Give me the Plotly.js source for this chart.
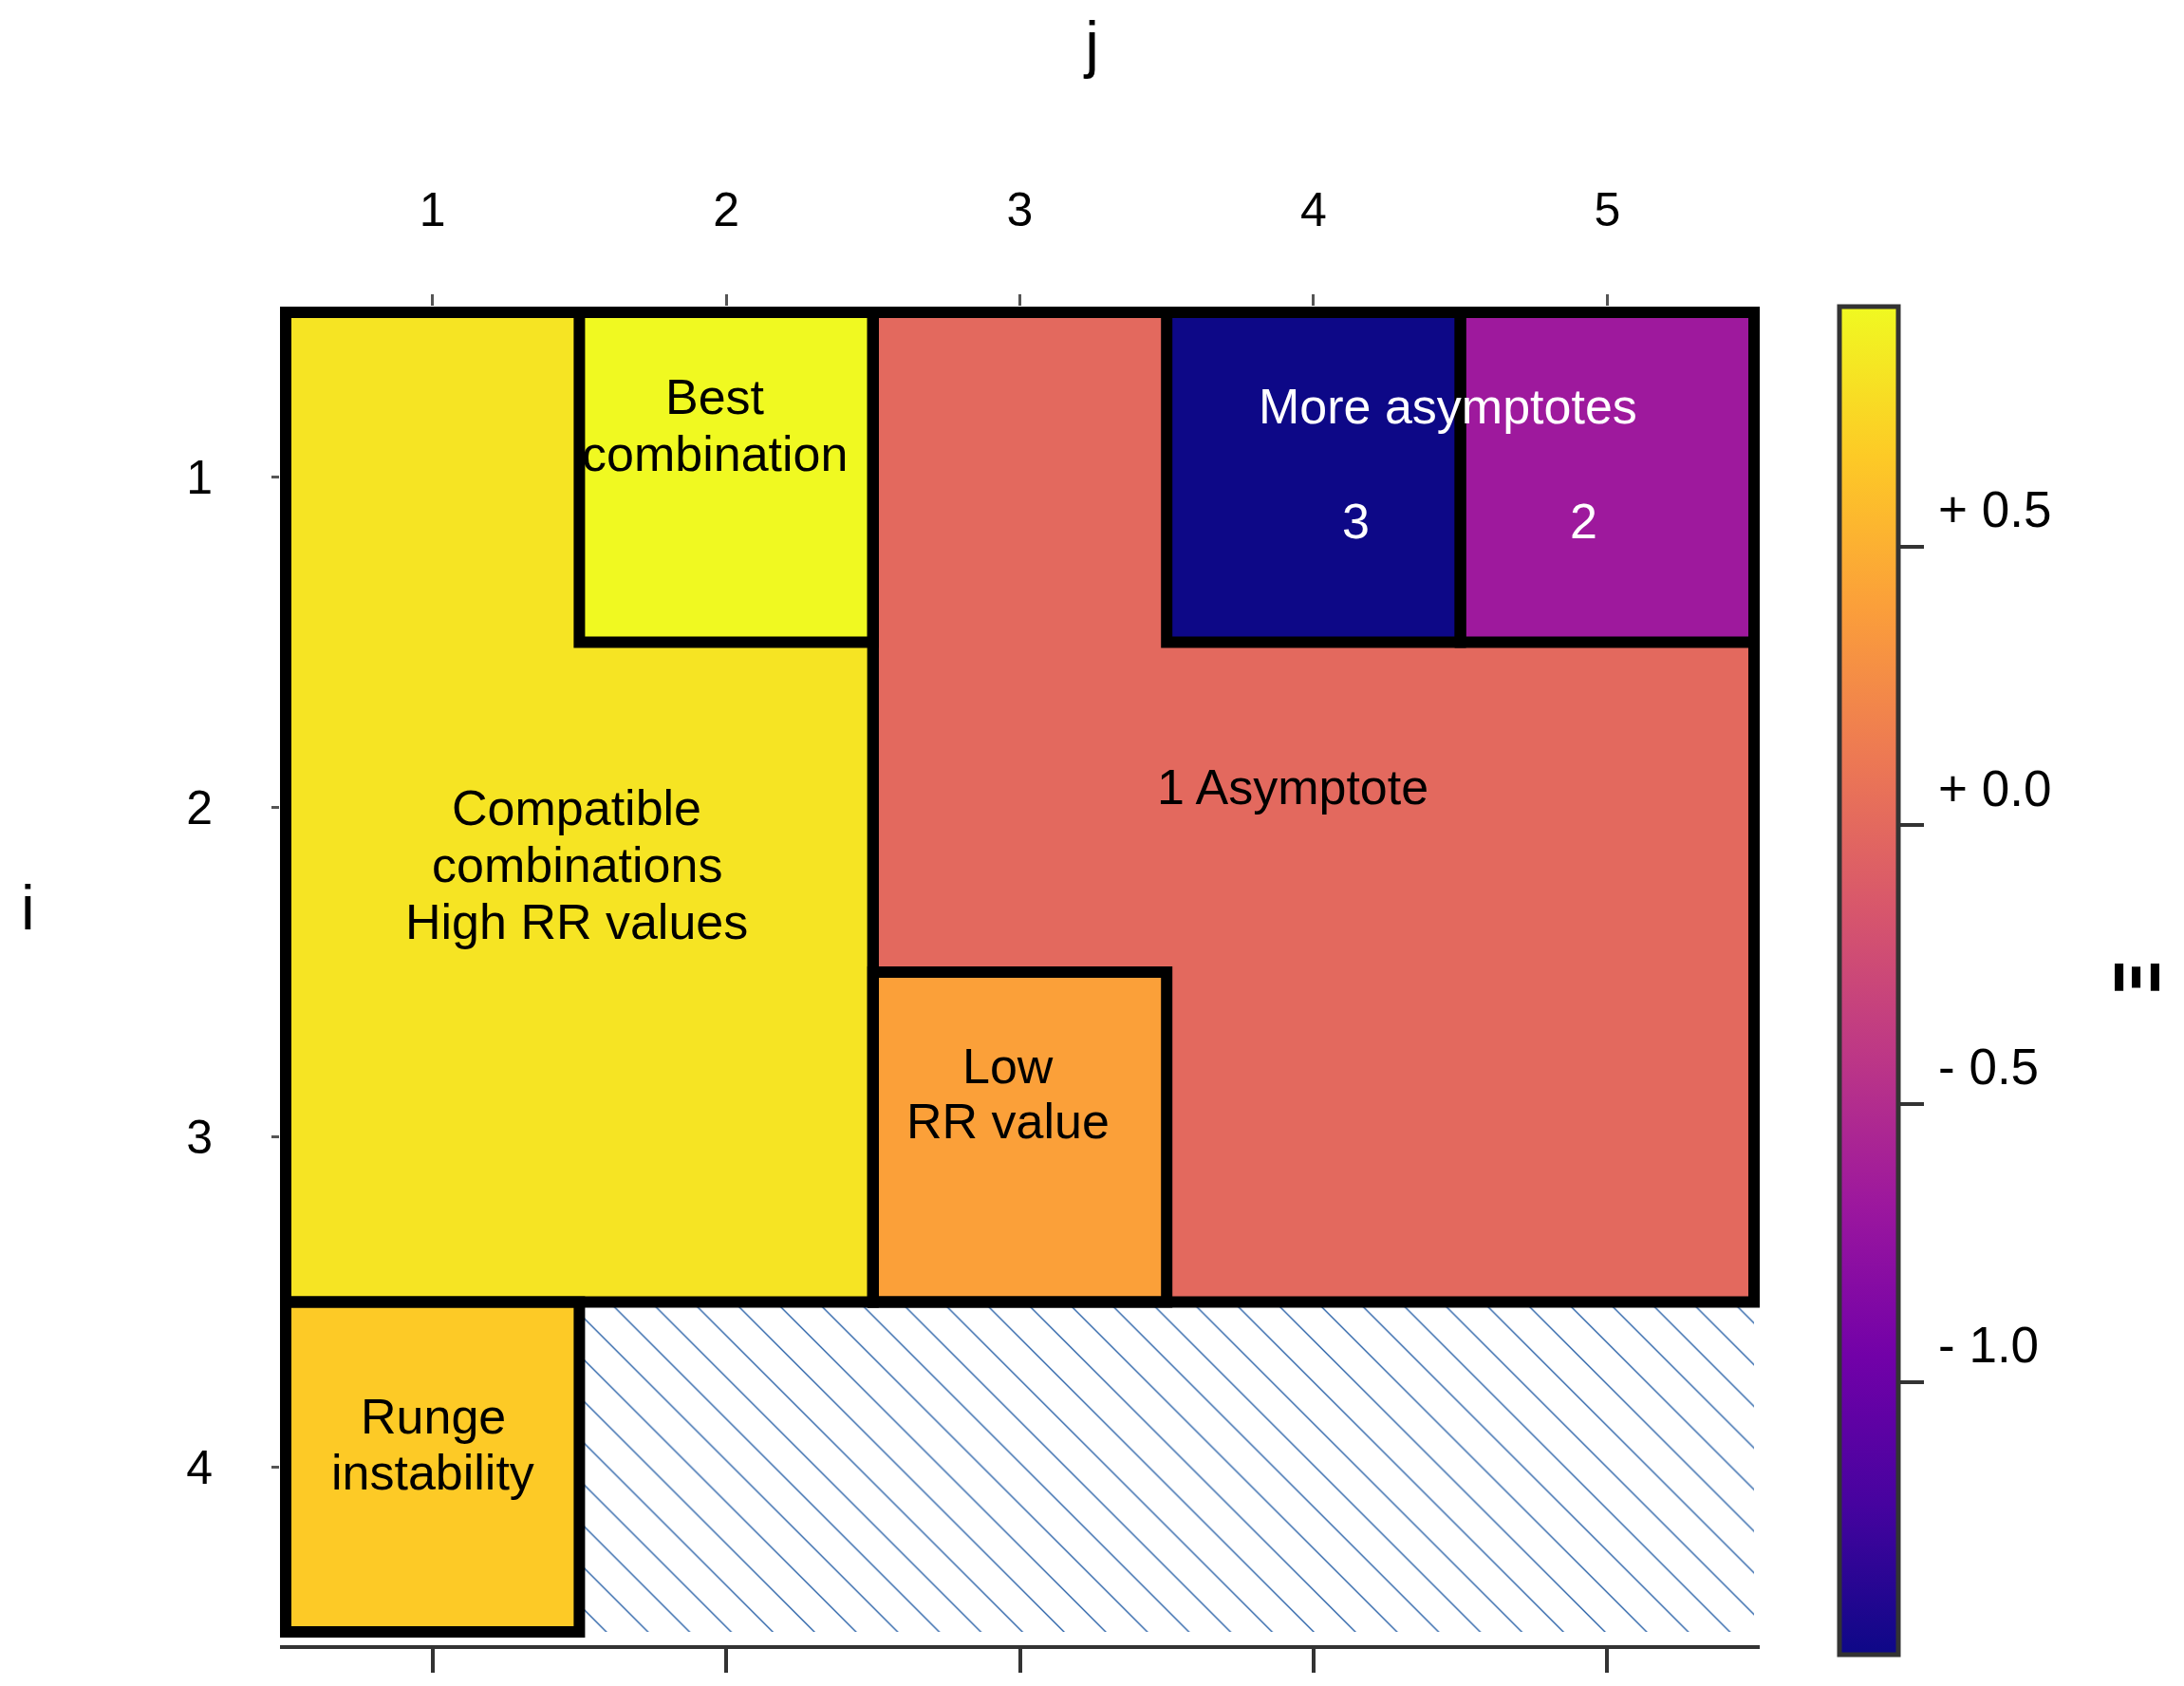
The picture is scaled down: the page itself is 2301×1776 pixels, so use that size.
<!DOCTYPE html>
<html><head><meta charset="utf-8">
<script src="https://cdn.plot.ly/plotly-3.0.1.min.js"></script>
<style>html,body{margin:0;padding:0;background:#fff}</style>
</head><body><div id="chart" style="width:2301px;height:1776px"></div>
<script>
// ---- data ----
const columns = [1, 2, 3, 4, 5];          // j
const rows = [1, 2, 3, 4];                // i
const xiRow1 = [0.81, 0.93, 0.0, -1.49, -0.67];
const xiRow2 = [0.81, 0.81, 0.0, 0.0, 0.0];
const xiRow3 = [0.81, 0.81, 0.40, 0.0, 0.0];
const xiRow4 = [0.66, null, null, null, null];
const cbTickVals = [0.5, 0.0, -0.5, -1.0];
const cbTickText = ['+ 0.5', '+ 0.0', '- 0.5', '- 1.0'];
// plasma colour stops
const plasmaColors = ['#0d0887', '#46039f', '#7201a8', '#9c179e', '#bd3786',
                      '#d8576b', '#ed7953', '#fb9f3a', '#fdca26', '#f0f921'];
// outlined regions: column span and row span
const regionCols = [[1, 2], [2, 2], [3, 5], [4, 4], [5, 5], [3, 3], [1, 1]];
const regionRows = [[1, 3], [1, 1], [1, 3], [1, 1], [1, 1], [3, 3], [4, 4]];
// hatched (not computed) cells
const hatchCols = [2, 5];
const hatchRows = [4, 4];

// ---- figure ----
const FONT = 'Liberation Sans, Arial, sans-serif';
const NB = '\u00a0\u00a0';
const plasma = plasmaColors.map((c, k) => [k / (plasmaColors.length - 1), c]);

const heat = {
  type: 'heatmap',
  x: columns, y: rows,
  z: [xiRow1, xiRow2, xiRow3, xiRow4],
  colorscale: plasma,
  zsmooth: false,
  hoverinfo: 'skip',
  colorbar: {
    thickness: 62, thicknessmode: 'pixels',
    len: 1420, lenmode: 'pixels',
    x: 1.0539, xanchor: 'left', xpad: 0,
    y: 0.4961, yanchor: 'middle', ypad: 0,
    outlinewidth: 5, outlinecolor: '#333',
    tickmode: 'array', tickvals: cbTickVals, ticktext: cbTickText.map(t => NB + t),
    ticks: 'outside', ticklen: 25, tickwidth: 4, tickcolor: '#333',
    ticklabelposition: 'outside top',
    tickfont: {family: FONT, size: 53, color: '#000'},
    title: {text: ''}
  }
};

const hx0 = hatchCols[0] - 0.5, hx1 = hatchCols[1] + 0.5;
const hy0 = hatchRows[0] - 0.5, hy1 = hatchRows[1] + 0.5;
const hatch = {
  type: 'scatter', mode: 'lines',
  x: [hx0, hx1, hx1, hx0, hx0],
  y: [hy0, hy0, hy1, hy1, hy0],
  xaxis: 'x2', yaxis: 'y',
  fill: 'toself',
  fillcolor: 'white',
  fillpattern: {shape: '\\', fgcolor: '#2a62a8', bgcolor: 'white', size: 31, solidity: 0.045},
  line: {width: 0, color: 'rgba(0,0,0,0)'},
  hoverinfo: 'skip', showlegend: false
};

const shapes = regionCols.map((c, k) => ({
  type: 'rect', xref: 'x', yref: 'y', layer: 'above',
  x0: c[0] - 0.5, x1: c[1] + 0.5,
  y0: regionRows[k][0] - 0.5, y1: regionRows[k][1] + 0.5,
  line: {color: '#000', width: 12}, fillcolor: 'rgba(0,0,0,0)'
}));

const ann = (text, x, y, col) => ({
  text, x, y, xref: 'x', yref: 'y', showarrow: false,
  xanchor: 'center', yanchor: 'middle',
  font: {family: FONT, size: 52, color: col}
});

const annotations = [
  ann('Best', 1.961, 0.756, '#000'),
  ann('combination', 1.961, 0.929, '#000'),
  ann('Compatible', 1.491, 2.002, '#000'),
  ann('combinations', 1.491, 2.175, '#000'),
  ann('High RR values', 1.491, 2.347, '#000'),
  ann('More asymptotes', 4.459, 0.786, '#fff'),
  ann('3', 4.143, 1.133, '#fff'),
  ann('2', 4.921, 1.133, '#fff'),
  ann('1 Asymptote', 3.929, 1.939, '#000'),
  ann('Low', 2.961, 2.785, '#000'),
  ann('RR value', 2.961, 2.952, '#000'),
  ann('Runge', 1.001, 3.847, '#000'),
  ann('instability', 1.001, 4.016, '#000'),
  {text: 'i', xref: 'paper', yref: 'paper', x: -0.170, y: 0.551, showarrow: false,
   xanchor: 'center', yanchor: 'middle',
   font: {family: FONT, size: 66, color: '#000'}},
  {text: 'Ξ', xref: 'paper', yref: 'paper', x: 1.2559, y: 0.4986, showarrow: false,
   textangle: -90, xanchor: 'center', yanchor: 'middle', borderpad: 0,
   font: {family: 'DejaVu Sans, sans-serif', size: 64, color: '#000', weight: 'bold'}}
];

const xr = [0.5 - 6 / 309.4, 5.5 + 6 / 309.4];
const layout = {
  width: 2301, height: 1776,
  margin: {l: 295, r: 447, t: 323, b: 43, pad: 0},
  paper_bgcolor: '#fff', plot_bgcolor: '#fff',
  showlegend: false,
  title: {text: 'j', x: 0.5, xref: 'container', xanchor: 'center',
          y: 0.974, yref: 'container', yanchor: 'middle',
          font: {family: FONT, size: 66, color: '#000'}},
  xaxis: {
    side: 'top', range: xr, tickmode: 'array', tickvals: columns,
    ticks: 'outside', ticklen: 12, tickwidth: 3, tickcolor: '#555',
    ticklabelstandoff: 52,
    tickfont: {family: FONT, size: 50, color: '#000'},
    showgrid: false, zeroline: false, showline: false, fixedrange: true
  },
  xaxis2: {
    overlaying: 'x', side: 'bottom', anchor: 'y', range: xr,
    tickmode: 'array', tickvals: columns, showticklabels: false,
    ticks: 'outside', ticklen: 25, tickwidth: 4, tickcolor: '#333',
    showline: true, linecolor: '#333', linewidth: 4,
    showgrid: false, zeroline: false, fixedrange: true
  },
  yaxis: {
    range: [4.54, 0.5 - 6 / 347.5], tickmode: 'array', tickvals: rows,
    ticks: 'outside', ticklen: 8, tickwidth: 3, tickcolor: '#555',
    ticklabelstandoff: 52,
    tickfont: {family: FONT, size: 50, color: '#000'},
    showgrid: false, zeroline: false, showline: false, fixedrange: true
  },
  shapes, annotations
};

Plotly.newPlot('chart', [heat, hatch], layout, {displayModeBar: false, staticPlot: true});
</script>
</body></html>
